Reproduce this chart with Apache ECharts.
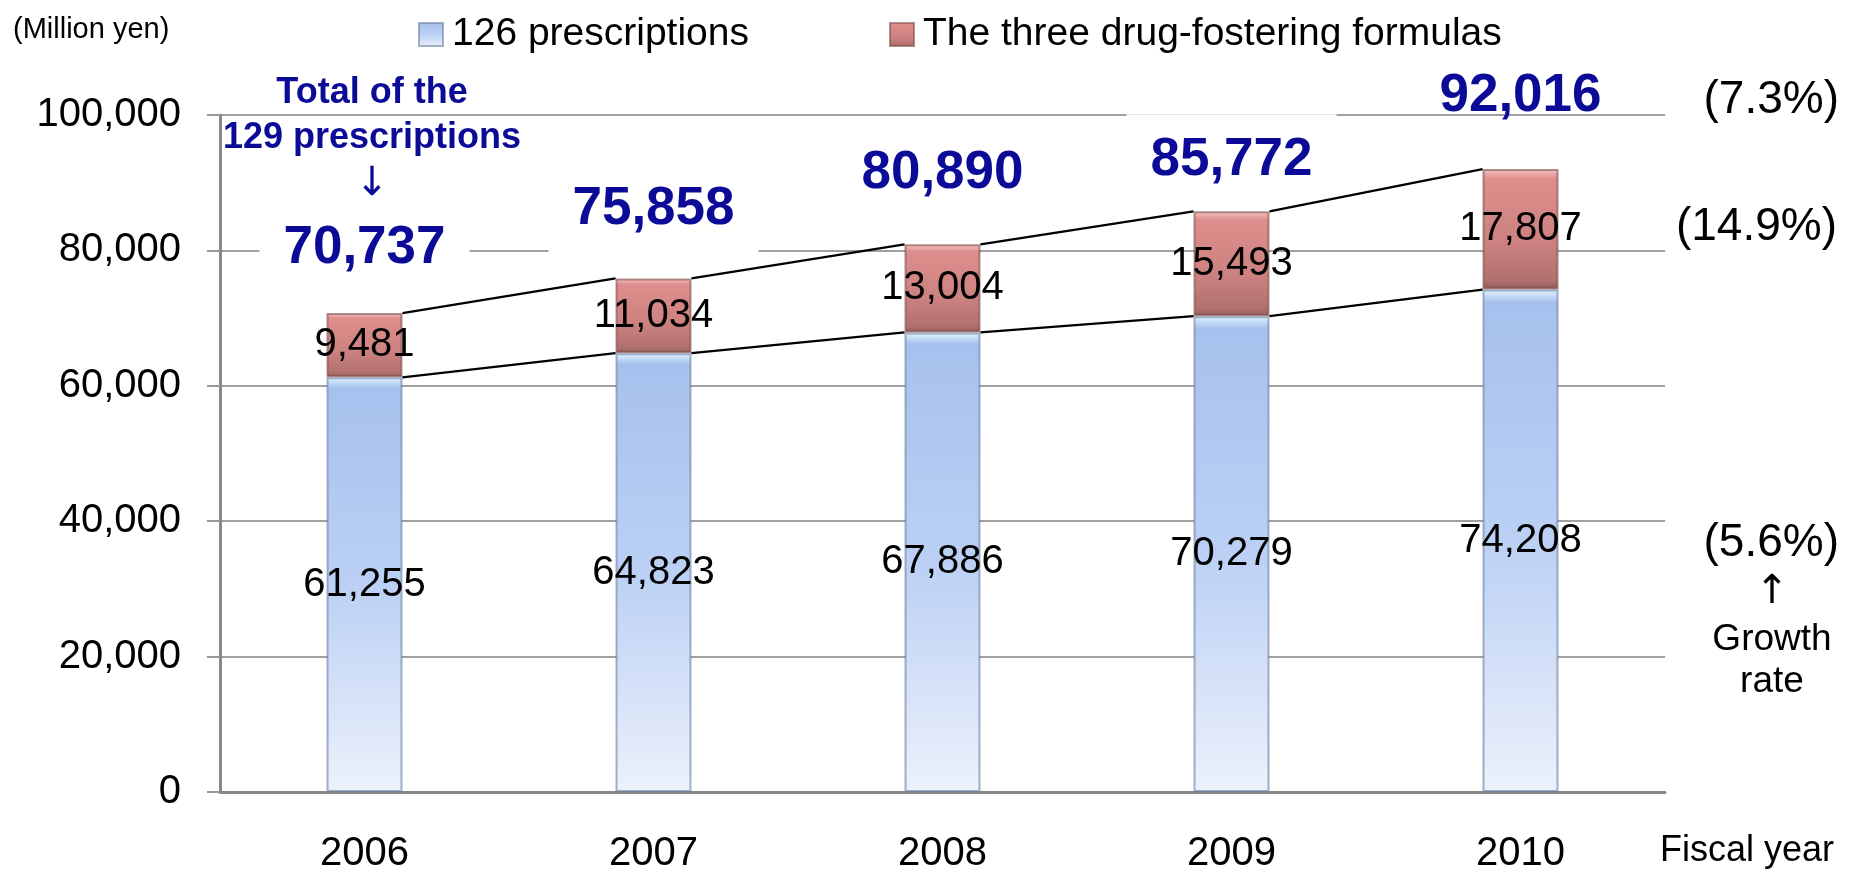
<!DOCTYPE html>
<html>
<head>
<meta charset="utf-8">
<script src="https://cdn.jsdelivr.net/npm/echarts@6/dist/echarts.min.js"></script>
<style>
html,body{margin:0;padding:0;background:#fff;}
#chart{width:1858px;height:875px;}
</style>
</head>
<body>
<div id="chart"></div>
<script>
// ---- data ----
const years = ['2006', '2007', '2008', '2009', '2010'];
const prescriptions126 = [61255, 64823, 67886, 70279, 74208];
const drugFostering3 = [9481, 11034, 13004, 15493, 17807];
const totals129 = [70737, 75858, 80890, 85772, 92016];
const growthRates = ['(7.3%)', '(14.9%)', '(5.6%)'];
const seriesNames = ['126 prescriptions', 'The three drug-fostering formulas'];

// ---- style ----
const FONT = "'Liberation Sans', Arial, sans-serif";
const ARROW_FONT = "'DejaVu Sans', sans-serif";
const BAR_W = 76;
const BLUE = '#0b0b98';
const totalLabelNudge = [2, -2, -4, 16, -6];

const fmt = v => String(v).replace(/\B(?=(\d{3})+(?!\d))/g, ',');
const tops = prescriptions126.map((v, i) => v + drugFostering3[i]);

const blueFill = new echarts.graphic.LinearGradient(0, 0, 0, 1, [
  {offset: 0, color: '#e2f6fc'},
  {offset: 0.025, color: '#a7c1ee'},
  {offset: 0.5, color: '#bbd0f4'},
  {offset: 1, color: '#ecf1fb'}
]);
const redFill = new echarts.graphic.LinearGradient(0, 0, 0, 1, [
  {offset: 0, color: '#f4c6c5'},
  {offset: 0.08, color: '#de8e8c'},
  {offset: 0.6, color: '#cc8280'},
  {offset: 0.93, color: '#b0706e'},
  {offset: 1, color: '#8c5a58'}
]);

const connectorData = years.slice(0, -1).map((y, i) =>
  [i, prescriptions126[i], prescriptions126[i + 1], tops[i], tops[i + 1]]);

const chart = echarts.init(document.getElementById('chart'));
chart.setOption({
  animation: false,
  backgroundColor: '#fff',
  textStyle: {fontFamily: FONT},
  grid: {left: 220, right: 193, top: 115, bottom: 83},
  legend: [
    {data: [seriesNames[0]], left: 413, top: 10, itemWidth: 24, itemHeight: 23, icon: 'rect',
     textStyle: {fontSize: 39, color: '#000', fontFamily: FONT, padding: [0, 0, 0, 4]}},
    {data: [seriesNames[1]], left: 884, top: 10, itemWidth: 24, itemHeight: 23, icon: 'rect',
     textStyle: {fontSize: 39, color: '#000', fontFamily: FONT, padding: [0, 0, 0, 4]}}
  ],
  xAxis: {
    type: 'category',
    data: years,
    axisLine: {lineStyle: {color: '#888', width: 3}},
    axisTick: {show: false},
    axisLabel: {fontSize: 40, color: '#000', margin: 42, fontFamily: FONT}
  },
  yAxis: {
    type: 'value',
    min: 0, max: 100000, interval: 20000,
    axisLine: {show: true, lineStyle: {color: '#888', width: 3}},
    axisTick: {show: true, length: 13, lineStyle: {color: '#999', width: 2}},
    splitLine: {lineStyle: {color: '#a0a0a0', width: 2}},
    axisLabel: {fontSize: 40, color: '#000', margin: 39, fontFamily: FONT, formatter: fmt}
  },
  series: [
    {
      name: seriesNames[0], type: 'bar', stack: 'total', barWidth: BAR_W,
      data: prescriptions126,
      itemStyle: {color: blueFill, borderColor: 'rgba(105,125,165,0.6)', borderWidth: 2},
      label: {show: true, position: 'inside', fontSize: 40, color: '#000', fontFamily: FONT,
              formatter: p => fmt(p.value)},
      z: 3
    },
    {
      name: seriesNames[1], type: 'bar', stack: 'total', barWidth: BAR_W,
      data: drugFostering3,
      itemStyle: {color: redFill, borderColor: 'rgba(125,75,73,0.6)', borderWidth: 2},
      label: {show: true, position: 'inside', fontSize: 40, color: '#000', fontFamily: FONT,
              formatter: p => fmt(p.value)},
      z: 3
    },
    {
      type: 'scatter', name: 'totals', symbolSize: 0, silent: true, z: 5,
      itemStyle: {opacity: 1},
      data: tops.map((v, i) => ({
        value: [i, v],
        label: {
          offset: [0, totalLabelNudge[i]],
          backgroundColor: i < tops.length - 1 ? '#fff' : 'transparent'
        }
      })),
      label: {
        show: true, position: 'top', distance: 21, opacity: 1,
        fontSize: 53, fontWeight: 'bold', color: BLUE, fontFamily: FONT,
        lineHeight: 56, padding: [18, 24],
        formatter: p => fmt(totals129[p.dataIndex])
      }
    },
    {
      type: 'custom', name: 'connectors', silent: true, z: 8,
      data: connectorData,
      encode: {x: 0, y: [1, 2, 3, 4]},
      renderItem: (params, api) => {
        const i = api.value(0);
        const a0 = api.coord([i, api.value(1)]), a1 = api.coord([i + 1, api.value(2)]);
        const b0 = api.coord([i, api.value(3)]), b1 = api.coord([i + 1, api.value(4)]);
        const h = BAR_W / 2;
        const st = {stroke: '#000', lineWidth: 2.2};
        return {type: 'group', children: [
          {type: 'line', shape: {x1: a0[0] + h, y1: a0[1], x2: a1[0] - h, y2: a1[1]}, style: st},
          {type: 'line', shape: {x1: b0[0] + h, y1: b0[1], x2: b1[0] - h, y2: b1[1]}, style: st}
        ]};
      }
    }
  ],
  graphic: [
    {type: 'text', x: 13, y: 30, style: {text: '(Million yen)', fill: '#000', fontSize: 29, fontFamily: FONT, verticalAlign: 'middle'}},
    {type: 'text', x: 372, y: 93, style: {text: 'Total of the', fill: BLUE, fontSize: 36, fontWeight: 'bold', fontFamily: FONT, align: 'center', verticalAlign: 'middle'}},
    {type: 'text', x: 372, y: 138, style: {text: '129 prescriptions', fill: BLUE, fontSize: 36, fontWeight: 'bold', fontFamily: FONT, align: 'center', verticalAlign: 'middle'}},
    {type: 'text', x: 372, y: 185, style: {text: '↓', fill: BLUE, fontSize: 40, fontFamily: ARROW_FONT, align: 'center', verticalAlign: 'middle'}},
    {type: 'text', x: 1839, y: 100, style: {text: growthRates[0], fill: '#000', fontSize: 46, fontFamily: FONT, align: 'right', verticalAlign: 'middle'}},
    {type: 'text', x: 1839, y: 227, style: {text: growthRates[1], fill: '#000', fontSize: 46, fontFamily: FONT, align: 'right', verticalAlign: 'middle', backgroundColor: '#fff', padding: [4, 2, 4, 36]}},
    {type: 'text', x: 1839, y: 543, style: {text: growthRates[2], fill: '#000', fontSize: 46, fontFamily: FONT, align: 'right', verticalAlign: 'middle'}},
    {type: 'text', x: 1772, y: 593, style: {text: '↑', fill: '#000', fontSize: 40, fontFamily: ARROW_FONT, align: 'center', verticalAlign: 'middle'}},
    {type: 'text', x: 1772, y: 640, style: {text: 'Growth', fill: '#000', fontSize: 37, fontFamily: FONT, align: 'center', verticalAlign: 'middle'}},
    {type: 'text', x: 1772, y: 682, style: {text: 'rate', fill: '#000', fontSize: 37, fontFamily: FONT, align: 'center', verticalAlign: 'middle'}},
    {type: 'text', x: 1747, y: 851, style: {text: 'Fiscal year', fill: '#000', fontSize: 36, fontFamily: FONT, align: 'center', verticalAlign: 'middle'}}
  ]
});
</script>
</body>
</html>
